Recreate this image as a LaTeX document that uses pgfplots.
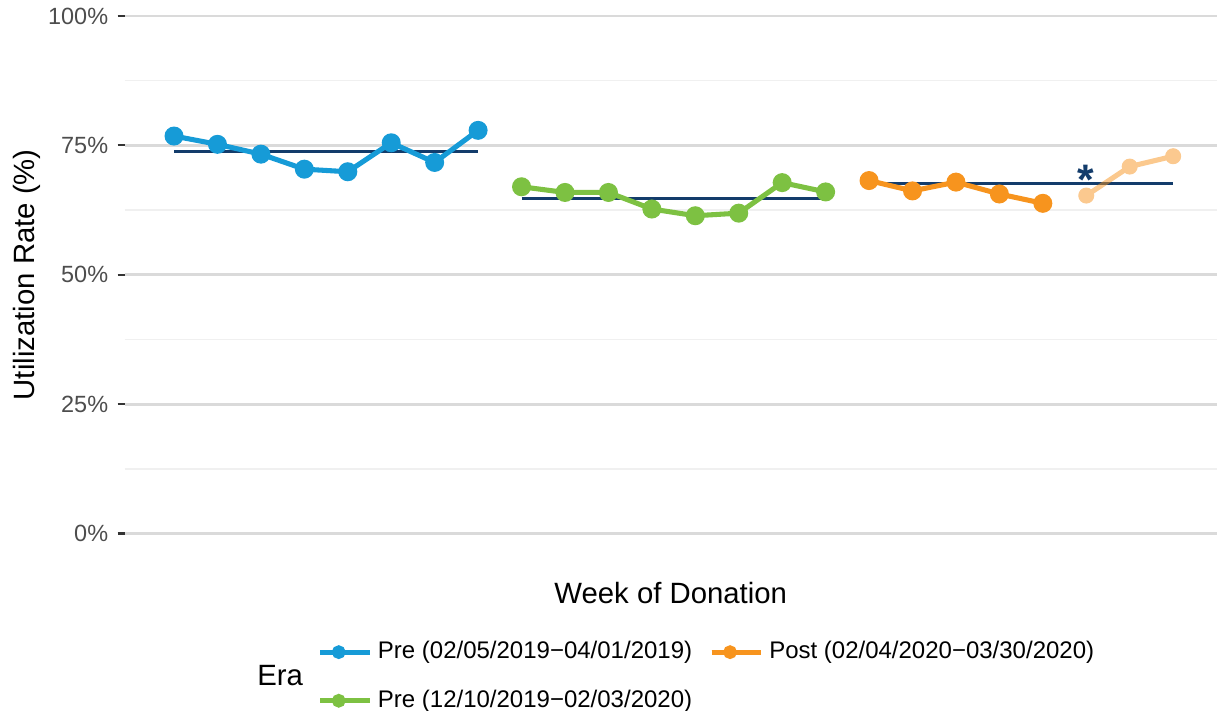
\documentclass[border=0pt]{standalone}
\usepackage{fontspec}
\setmainfont{Liberation Sans}
\usepackage{pgfplots}
\pgfplotsset{compat=1.18}

\definecolor{preblue}{HTML}{169BD7}
\definecolor{pregreen}{HTML}{7DC142}
\definecolor{postorange}{HTML}{F7941E}
\definecolor{fadedorange}{HTML}{FBC98F}
\definecolor{meannavy}{HTML}{133C6B}
\definecolor{gridmajor}{HTML}{DADADA}
\definecolor{gridminor}{HTML}{F0F0F0}
\definecolor{tickgray}{HTML}{333333}
\definecolor{labelgray}{HTML}{4D4D4D}

\begin{document}
\begin{tikzpicture}
\useasboundingbox (-46.69pt,-66.56pt) rectangle (409.69pt,200.06pt);
\begin{axis}[
    scale only axis,
    width=409.69pt,
    height=194.06pt,
    xmin=-0.14, xmax=25.01,
    ymin=0, ymax=100,
    clip=false,
    axis line style={draw=none},
    xtick=\empty,
    ytick={0,25,50,75,100},
    yticklabels={0\%,25\%,50\%,75\%,100\%},
    minor ytick={12.5,37.5,62.5,87.5},
    ymajorgrids, yminorgrids,
    major grid style={draw=gridmajor, line width=1.1pt},
    minor grid style={draw=gridminor, line width=0.55pt},
    tick align=outside,
    ytick pos=left,
    major tick length=2.6pt,
    minor tick length=0pt,
    tick style={draw=tickgray, line width=0.8pt},
    yticklabel style={font=\fontsize{8.8}{10}\selectfont, text=labelgray},
    ylabel={Utilization Rate (\%)},
    ylabel style={at={(axis description cs:-0.0892,0.5)}, anchor=center, font=\fontsize{11}{13}\selectfont},
    xlabel={Week of Donation},
    xlabel style={at={(axis description cs:0.5,-0.115)}, anchor=center, font=\fontsize{11}{13}\selectfont},
    legend columns=2,
    legend cell align=left,
    legend style={draw=none, fill=none, at={(axis description cs:0.169,-0.187)}, anchor=north west,
        font=\fontsize{9}{10}\selectfont, row sep=6.2pt,
        /tikz/every even column/.append style={column sep=4.3pt}},
    legend image code/.code={
        \path (0pt,0pt) -- (18.7pt,0pt);
        \draw[#1, mark=none, line width=1.75pt] (0pt,0pt) -- (13.9pt,0pt);
        \draw[#1, only marks, mark size=1.6pt] plot coordinates {(6.95pt,0pt)};
    },
]
% mean lines
\addplot[meannavy, line width=1.1pt, forget plot] coordinates {(1,73.8) (8,73.8)};
\addplot[meannavy, line width=1.1pt, forget plot] coordinates {(9,64.8) (16,64.8)};
\addplot[meannavy, line width=1.1pt, forget plot] coordinates {(17,67.6) (24,67.6)};

% Pre 2019
\addplot[preblue, line width=1.9pt, mark=*, mark size=2.6pt] coordinates {
    (1,76.8) (2,75.2) (3,73.3) (4,70.4) (5,69.9) (6,75.5) (7,71.7) (8,77.9)};
\addlegendentry{Pre (02/05/2019−04/01/2019)}

% Post 2020
\addplot[postorange, line width=1.9pt, mark=*, mark size=2.6pt] coordinates {
    (17,68.2) (18,66.2) (19,67.9) (20,65.6) (21,63.8)};
\addlegendentry{Post (02/04/2020−03/30/2020)}

% Pre 2019/2020
\addplot[pregreen, line width=1.9pt, mark=*, mark size=2.6pt] coordinates {
    (9,67.0) (10,65.9) (11,65.9) (12,62.7) (13,61.4) (14,61.9) (15,67.8) (16,66.0)};
\addlegendentry{Pre (12/10/2019−02/03/2020)}

% Post weeks after cut-off, faded
\addplot[only marks, mark=*, mark size=2.8pt, mark options={draw=fadedorange, fill=fadedorange}, forget plot] coordinates {
    (22,65.3) (23,70.9) (24,72.9)};
\addplot[postorange, line width=1.9pt, opacity=0.5, mark=none, forget plot] coordinates {
    (22,65.3) (23,70.9) (24,72.9)};

\node[anchor=base, text=meannavy, font=\fontsize{16}{16}\selectfont\bfseries] at (axis cs:22,65.5) {*};
\node[anchor=west, font=\fontsize{11}{13}\selectfont] at (axis description cs:0.113,-0.275) {Era};
\end{axis}
\end{tikzpicture}
\end{document}
